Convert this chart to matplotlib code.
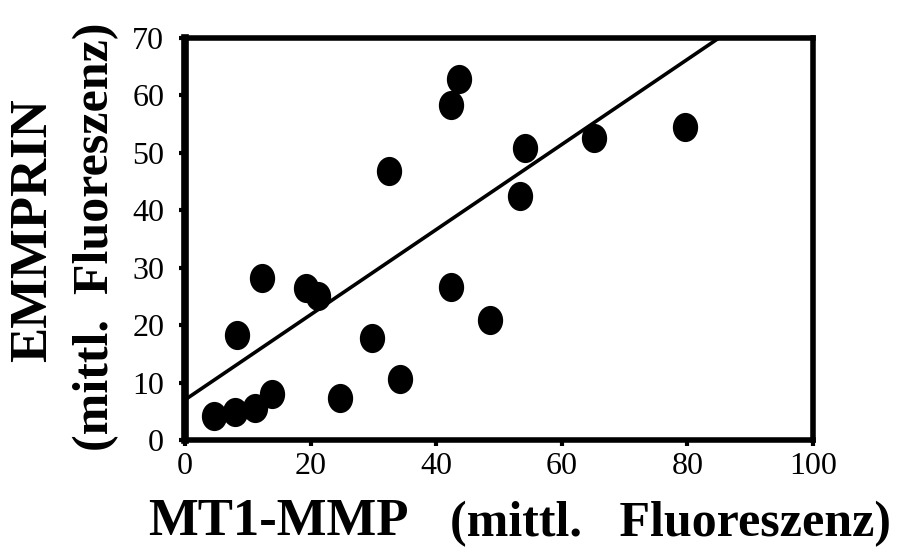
import numpy as np
import matplotlib
matplotlib.use("Agg")
import matplotlib.pyplot as plt
from matplotlib.path import Path
from matplotlib.transforms import Affine2D

# Data
mt1_mmp = [4.6, 8.0, 11.2, 13.9, 8.3, 12.3, 19.3, 21.1, 24.7, 29.7, 34.3,
           32.5, 42.3, 42.3, 43.7, 48.6, 53.4, 54.1, 65.1, 79.6]
emmprin = [4.2, 4.9, 5.6, 8.0, 18.3, 28.2, 26.5, 25.1, 7.3, 17.8, 10.6,
           46.9, 26.7, 58.4, 62.9, 20.9, 42.5, 50.9, 52.6, 54.5]
fit_intercept = 7.0
fit_slope = 0.741
x_ticks = [0, 20, 40, 60, 80, 100]
y_ticks = [0, 10, 20, 30, 40, 50, 60, 70]

plt.rcParams['font.family'] = ['Liberation Serif', 'DejaVu Serif']

W, H = 897, 547
fig = plt.figure(figsize=(W / 100, H / 100), dpi=100)
ax = fig.add_axes([185 / W, 1 - 440 / H, (813 - 185) / W, (440 - 38) / H])

ell = Path.unit_circle().transformed(Affine2D().scale(0.86, 1.0))
ax.plot(mt1_mmp, emmprin, linestyle='none', marker=ell, markersize=20,
        color='black', clip_on=False, zorder=3)

xl = np.array([0, 100])
ax.plot(xl, fit_intercept + fit_slope * xl, color='black', lw=2.6, zorder=2)

ax.set_xlim(0, 100)
ax.set_ylim(0, 70)
ax.set_xticks(x_ticks)
ax.set_yticks(y_ticks)
ax.set_xticklabels([str(v) for v in x_ticks], fontsize=23)
ax.set_yticklabels([str(v) for v in y_ticks], fontsize=23)
ax.tick_params(axis='both', direction='out', length=4, width=3, color='black')
ax.tick_params(axis='y', pad=11)
ax.tick_params(axis='x', pad=5)
for side in ['left', 'bottom', 'right', 'top']:
    ax.spines[side].set_linewidth(4)
ax.spines['left'].set_linewidth(5.5)

tr = fig.transFigure
def px(x, y):
    return x / W, 1 - y / H

fig.text(*px(33, 230), 'EMMPRIN', rotation=90, ha='center', va='center',
         fontsize=38, fontweight='bold', transform=tr)
fig.text(*px(96, 237), '(mittl.  Fluoreszenz)', rotation=90, ha='center', va='center',
         fontsize=36, fontweight='bold', transform=tr)
fig.text(*px(148, 522), 'MT1-MMP', ha='left', va='center',
         fontsize=38, fontweight='bold', transform=tr)
fig.text(*px(891, 524), '(mittl.   Fluoreszenz)', ha='right', va='center',
         fontsize=36, fontweight='bold', transform=tr)

fig.savefig('out.png', dpi=100)
